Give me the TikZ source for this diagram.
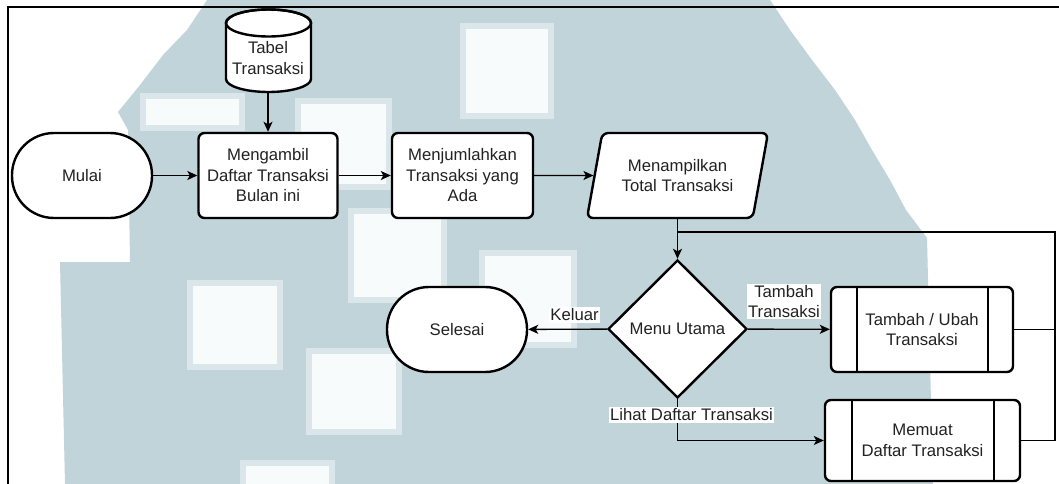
\documentclass[tikz,border=0pt]{standalone}
\usepackage{fontspec}
\setmainfont{Liberation Sans}
\usetikzlibrary{shapes.geometric,arrows.meta}
\definecolor{wmblue}{HTML}{C1D4DA}
\definecolor{wmedge}{HTML}{DAE6EA}
\definecolor{wmcore}{HTML}{F8FBFC}
\definecolor{diagtext}{HTML}{222222}
\begin{document}
\begin{tikzpicture}[x=1pt,y=-1pt,
  font=\fontsize{16.7}{20.5}\selectfont, text=diagtext,
  shapeline/.style={draw=black, line width=2.4pt, fill=white},
  box/.style={shapeline, rounded corners=6pt, align=center, inner sep=0pt},
  proc/.style={box, minimum width=139pt, minimum height=85pt},
  term/.style={shapeline, rounded corners=42pt, minimum width=140pt, minimum height=85pt, inner sep=0pt},
  conn/.style={line width=1.4pt, draw=black},
  arr/.style={conn, -{Stealth[length=10pt,width=9pt,inset=2.5pt]}},
  lbl/.style={fill=white, inner sep=1.5pt, align=center},
  wsq/.style={fill=wmcore, draw=wmedge, line width=6pt}
]
\useasboundingbox (0,0) rectangle (1059,484);
\fill[white] (0,0) rectangle (1059,484);
% watermark
\fill[wmblue] (207,0) -- (770,0) -- (790,30) -- (812,60) -- (835,90) -- (855,120) -- (872,150)
  -- (890,180) -- (906,210) -- (927,238) -- (933,484) -- (65,484) -- (60,262) -- (130,262)
  -- (128,130) -- (118,112) -- (140,85) -- (163,55) -- (187,30) -- cycle;
\path[wsq] (463,26) rectangle (551,116);
\path[wsq] (298,101) rectangle (389,187);
\path[wsq] (351,211) rectangle (444,300);
\path[wsq] (482,253) rectangle (574,345);
\path[wsq] (190,283) rectangle (280,367);
\path[wsq] (309,351) rectangle (399,432);
\path[wsq] (243,463) rectangle (332,490);
\path[wsq] (143,96) rectangle (242,128);
% frame
\draw[line width=2pt] (8,484) -- (8,7) -- (1059,7);

% database cylinder
\filldraw[fill=white, line width=2.4pt] (226,23) -- (226,79)
  arc[start angle=180, end angle=0, x radius=42.5, y radius=13] -- (311,23)
  arc[start angle=360, end angle=180, x radius=42.5, y radius=13.5] -- cycle;
\draw[line width=2.4pt] (268.5,23) ellipse [x radius=42.5, y radius=13.5];
\node[align=center, inner sep=0pt, minimum width=85pt, minimum height=68pt] (tabel) at (268,58) {Tabel\\Transaksi};

% row 1
\node[term] (mulai) at (82,175.5) {Mulai};
\node[proc] (ambil) at (268,175.5) {Mengambil\\Daftar Transaksi\\Bulan ini};
\node[proc, minimum width=141pt] (jumlah) at (462.5,175.5) {Menjumlahkan\\Transaksi yang\\Ada};
\node[trapezium, trapezium left angle=65, trapezium right angle=115, trapezium stretches body,
  shapeline, rounded corners=6pt, minimum width=181pt, minimum height=85pt, align=center,
  inner sep=0pt] (show) at (677.5,175.5) {Menampilkan\\Total Transaksi};

% row 2
\node[diamond, shapeline, aspect=1, minimum width=139pt, minimum height=138pt, inner sep=0pt] (menu) at (677.5,329) {Menu Utama};
\node[term] (selesai) at (457,329.5) {Selesai};
\node[box, minimum width=182pt, minimum height=85pt] (tambah) at (922,329.5) {Tambah / Ubah\\Transaksi};
\draw[line width=2.4pt] ([xshift=27pt]tambah.north west) -- ([xshift=27pt]tambah.south west);
\draw[line width=2.4pt] ([xshift=-26pt]tambah.north east) -- ([xshift=-26pt]tambah.south east);
\node[box, minimum width=195pt, minimum height=81pt] (muat) at (922.5,440.5) {Memuat\\Daftar Transaksi};
\draw[line width=2.4pt] ([xshift=28pt]muat.north west) -- ([xshift=28pt]muat.south west);
\draw[line width=2.4pt] ([xshift=-27pt]muat.north east) -- ([xshift=-27pt]muat.south east);

% connectors
\coordinate (rt) at (1055,232);
\draw[arr] (tabel.south) -- (ambil.north);
\draw[arr] (mulai) -- (ambil);
\draw[arr] (ambil) -- (jumlah);
\draw[arr] (jumlah) -- (show);
\draw[arr] (menu.north |- show.south) -- (menu.north);
\draw[conn] (tambah.east) -- (tambah.east -| rt);
\draw[conn] (muat.east) -| (rt) -- (rt -| menu.north);
\draw[arr] (menu) -- (selesai);
\draw[arr] (menu) -- (tambah);
\draw[arr] (menu.south) |- (muat.west);

% labels
\node[lbl] (lkeluar) at (574.5,315) {Keluar};
\node[lbl, font=\fontsize{16.7}{19.5}\selectfont] (ltambah) at (784,301.5) {Tambah\\Transaksi};
\node[lbl] (llihat) at (691.5,415) {Lihat Daftar Transaksi};
\end{tikzpicture}
\end{document}
